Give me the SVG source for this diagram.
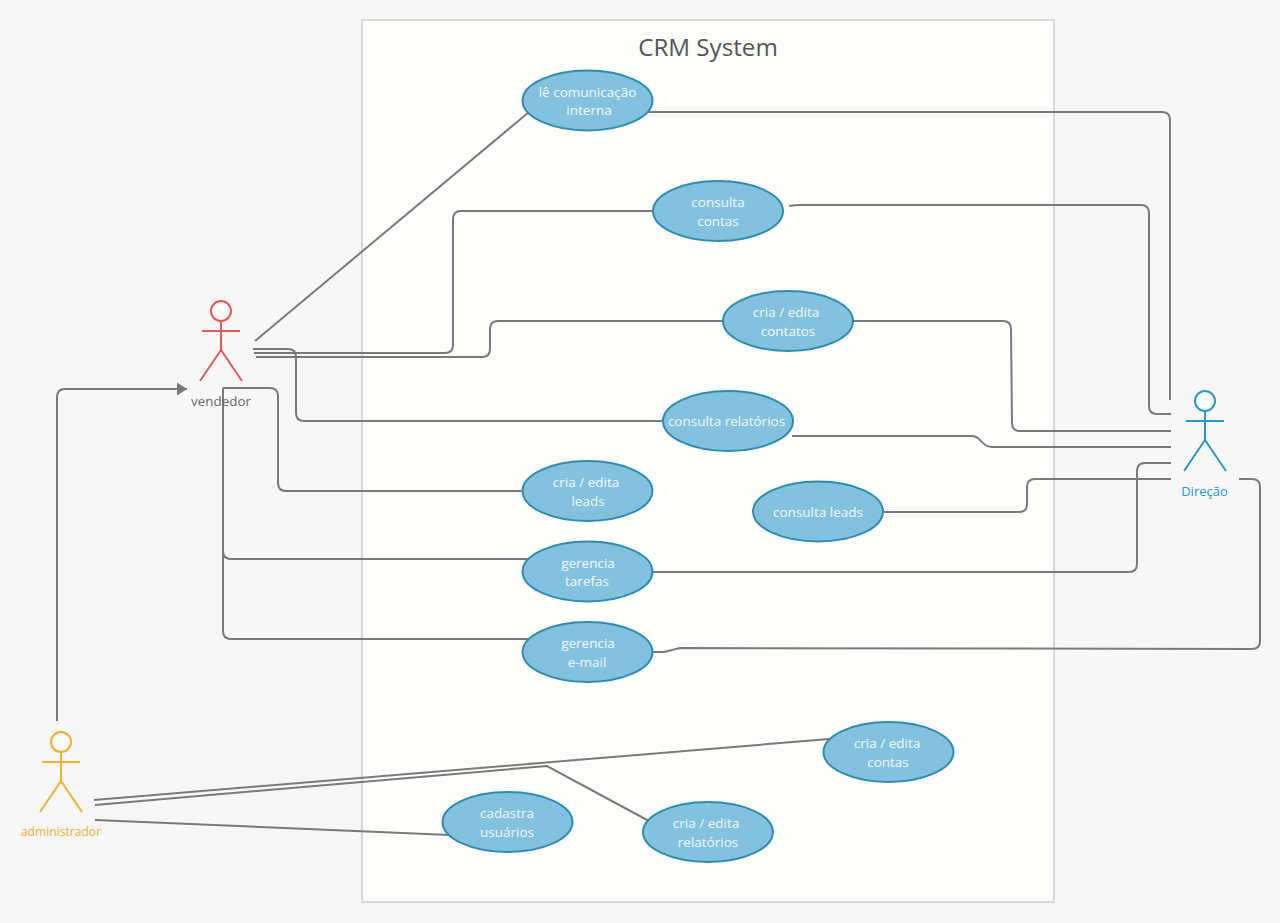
<svg xmlns="http://www.w3.org/2000/svg" width="1280" height="923" viewBox="0 0 1280 923">
<defs>
<marker id="arrow" markerUnits="userSpaceOnUse" markerWidth="12" markerHeight="14" refX="11" refY="7" orient="auto"><path d="M1 0.500 L11 7 L1 13.500 Z" fill="#7a7a7a"/></marker>
</defs>
<style>
text{font-family:"Open Sans","Noto Sans",sans-serif;font-size:13.500px;text-anchor:middle}
.uc ellipse{fill:#82c2de;stroke:#2e8cae;stroke-width:2}
.uc text{fill:#f4fbfe}
.c path{fill:none;stroke:#7a7a7a;stroke-width:2}
.a circle{fill:#fbfbfb}
.a path,.a circle{stroke-width:2}
.a path{fill:none}
</style>
<rect width="1280" height="923" fill="#f7f7f7"/>
<g id="system"><rect x="362" y="20" width="692" height="882" fill="#fdfdfb" stroke="#d7d9d9" stroke-width="2"/>
<text x="708" y="56" style="font-size:24.200px" fill="#555">CRM System</text></g>
<g class="c" id="connectors">
<path d="M255 341 L529 112"/>
<path d="M254 353 H445 Q453 353 453 345 V219 Q453 211 461 211 H653"/>
<path d="M256 357 H482 Q490 357 490 349 V329 Q490 321 498 321 H723"/>
<path d="M253 349 H288 Q296 349 296 357 V413 Q296 421 304 421 H663"/>
<path d="M223 388 H270 Q278 388 278 396 V483 Q278 491 286 491 H523"/>
<path d="M223 388 V551 Q223 559 231 559 H530"/>
<path d="M223 388 V631 Q223 639 231 639 H530"/>
<path d="M57 721 V397 Q57 389 65 389 H187" marker-end="url(#arrow)"/>
<path d="M646 112 H1162 Q1170 112 1170 120 V400"/>
<path d="M789 206 Q795 205 801 205 H1141 Q1149 205 1149 213 V406 Q1149 414 1157 414 H1171"/>
<path d="M853 321 H1003 Q1011 321 1011 329 L1012 423 Q1012 431 1020 431 H1171"/>
<path d="M792 436 H971 Q977 436 981 441 Q986 447 992 447 H1171"/>
<path d="M884 512 H1019 Q1027 512 1027 504 V487 Q1027 479 1035 479 H1171"/>
<path d="M652 572 H1129 Q1137 572 1137 564 V471 Q1137 463 1145 463 H1171"/>
<path d="M652 652 H664 Q672 650 680 648 L1252 649 Q1260 649 1260 641 V487 Q1260 479 1252 479 H1239"/>
<path d="M94 800 L829 739"/>
<path d="M95 805 L547 766 L649 821"/>
<path d="M95 820 L450 835"/>
</g>
<g id="vendedor" class="a" stroke="#e05a5a"><circle cx="221" cy="311" r="10"/><path d="M202 331 H240 M221 321 V350 M200 381 L221 350 L242 381"/><text x="221" y="406" style="font-size:13.400px" fill="#666" stroke="none">vendedor</text></g>
<g id="direcao" class="a" stroke="#2a98c6"><circle cx="1205" cy="401" r="10"/><path d="M1186 421 H1224 M1205 411 V440 M1184 471 L1205 440 L1226 471"/><text x="1204.500" y="496" style="font-size:13px" fill="#2a98c6" stroke="none">Direção</text></g>
<g id="administrador" class="a" stroke="#eeb02f"><circle cx="61" cy="742" r="10"/><path d="M42 762 H80 M61 752 V781 M40 812 L61 781 L82 812"/><text x="61" y="836" style="font-size:12.100px" fill="#eeb02f" stroke="none">administrador</text></g>
<g id="uc1" class="uc"><ellipse cx="587.500" cy="100.500" rx="65" ry="30"/><text x="587.500" y="97">lê comunicação</text><text x="589" y="115">interna</text></g>
<g id="uc2" class="uc"><ellipse cx="718" cy="211" rx="65" ry="30"/><text x="718" y="207">consulta</text><text x="718" y="226">contas</text></g>
<g id="uc3" class="uc"><ellipse cx="788" cy="321" rx="65" ry="30"/><text x="786" y="317">cria / edita</text><text x="788" y="336">contatos</text></g>
<g id="uc4" class="uc"><ellipse cx="728" cy="421" rx="65" ry="30"/><text x="726.500" y="426">consulta relatórios</text></g>
<g id="uc5" class="uc"><ellipse cx="587.500" cy="491" rx="65" ry="30"/><text x="586" y="487">cria / edita</text><text x="588" y="506">leads</text></g>
<g id="uc6" class="uc"><ellipse cx="818" cy="511.500" rx="65" ry="30"/><text x="818" y="517">consulta leads</text></g>
<g id="uc7" class="uc"><ellipse cx="587.500" cy="571.500" rx="65" ry="30"/><text x="588" y="568">gerencia</text><text x="587" y="586">tarefas</text></g>
<g id="uc8" class="uc"><ellipse cx="587.500" cy="652" rx="65" ry="30"/><text x="588" y="648">gerencia</text><text x="587" y="667">e-mail</text></g>
<g id="uc9" class="uc"><ellipse cx="888.500" cy="752" rx="65" ry="30"/><text x="887" y="748">cria / edita</text><text x="888" y="767">contas</text></g>
<g id="uc10" class="uc"><ellipse cx="507.500" cy="822" rx="65" ry="30"/><text x="507" y="818">cadastra</text><text x="507" y="837">usuários</text></g>
<g id="uc11" class="uc"><ellipse cx="708" cy="832" rx="65" ry="30"/><text x="706" y="828">cria / edita</text><text x="708" y="847">relatórios</text></g>
</svg>
